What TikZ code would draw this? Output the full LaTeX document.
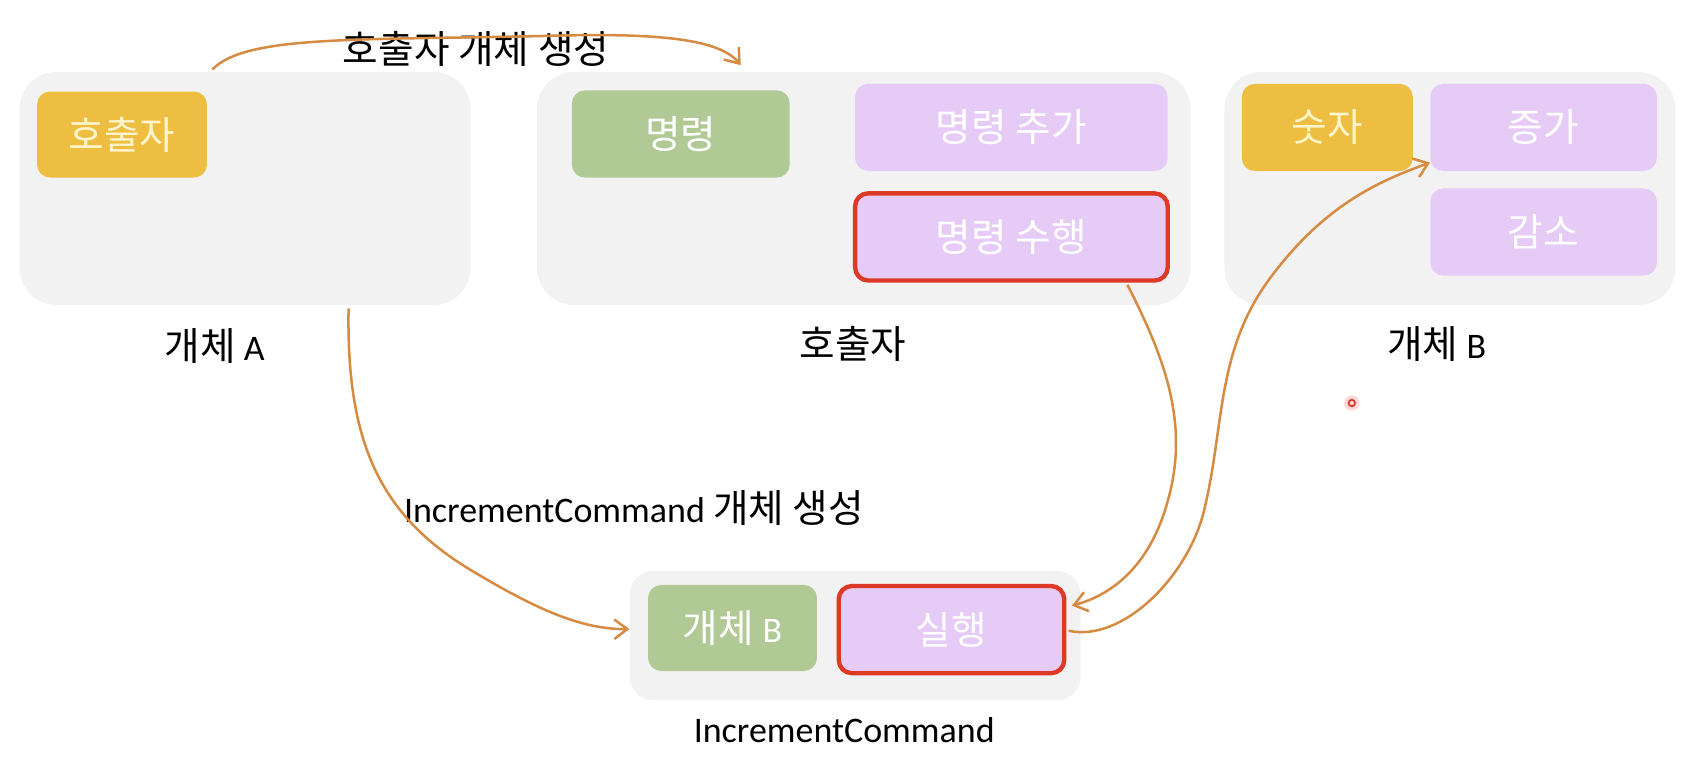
\documentclass[tikz,border=0pt]{standalone}
\usepackage{fontspec}
\setmainfont{Carlito}
\newfontfamily\kr[Scale=1.075]{Noto Sans CJK KR}
\usetikzlibrary{arrows.meta}
\definecolor{boxgray}{HTML}{F2F2F2}
\definecolor{ylw}{HTML}{EDBE42}
\definecolor{grn}{HTML}{B0C995}
\definecolor{lav}{HTML}{E6CBF6}
\definecolor{redb}{HTML}{DC3A26}
\definecolor{arr}{HTML}{D68B42}
\definecolor{ytext}{HTML}{FFF5CC}
\begin{document}
\begin{tikzpicture}[x=1pt,y=-1pt,
  panel/.style={fill=boxgray, rounded corners=34pt, inner sep=0pt},
  item/.style={rounded corners=12pt, inner sep=0pt, text=white,
    font=\kr\fontsize{33}{40}\selectfont},
  yitem/.style={item, fill=ylw, text=ytext},
  gitem/.style={item, fill=grn},
  litem/.style={item, fill=lav},
  ritem/.style={item, fill=lav, draw=redb, line width=4pt},
  lbl/.style={inner sep=0pt, text=black, font=\fontsize{33}{40}\selectfont},
  conn/.style={draw=arr, line width=2.3pt, -{Straight Barb[length=12pt,width=18pt]}}
]
\useasboundingbox (0,0) rectangle (1568,710.5);

% panels
\node[panel, minimum width=414pt, minimum height=214pt] (objA) at (225,173) {};
\node[panel, minimum width=600pt, minimum height=214pt] (caller) at (793,173) {};
\node[panel, minimum width=414pt, minimum height=214pt] (objB) at (1331,173) {};
\node[panel, rounded corners=22pt, minimum width=414pt, minimum height=119pt] (incr) at (785,583.5) {};

% items
\node[yitem, minimum width=156pt, minimum height=79pt] (callerA) at (112,123.5) {호출자};
\node[gitem, minimum width=200pt, minimum height=80pt] (cmd) at (625,123) {명령};
\node[litem, minimum width=287pt, minimum height=80pt] (add) at (928.5,117) {명령 추가};
\node[ritem, minimum width=287pt, minimum height=80pt] (exec) at (928.5,217.5) {명령 수행};
\node[yitem, minimum width=157pt, minimum height=80pt] (num) at (1218.5,117) {숫자};
\node[litem, minimum width=208pt, minimum height=80pt] (inc) at (1417,117) {증가};
\node[litem, minimum width=208pt, minimum height=80pt] (dec) at (1417,213) {감소};
\node[gitem, minimum width=155pt, minimum height=79pt] (objBref) at (672.5,576.5) {개체 {\rmfamily B}};
\node[ritem, minimum width=207pt, minimum height=80pt] (run) at (873.5,578) {실행};

% labels
\node[lbl] (lA) at (197,318) {{\kr 개체} A};
\node[lbl] (lC) at (783,316) {\kr 호출자};
\node[lbl] (lB) at (1319,316) {{\kr 개체} B};
\node[lbl] (lI) at (775,670) {IncrementCommand};
\node[lbl] (t1) at (437,45) {\kr 호출자 개체 생성};
\node[lbl] (t2) at (582,466) {IncrementCommand {\kr 개체 생성}};

% connectors
\draw[conn] ([xshift=-30pt,yshift=2pt]objA.north)
  .. controls (225,32) and (330,37) .. (500,33)
  .. controls (600,30) and (660,35) .. ([xshift=-113pt,yshift=6pt]caller.north);
\draw[conn] ([xshift=95pt,yshift=-3pt]objA.south)
  .. controls (318,400) and (345,470) .. (430,522)
  .. controls (485,555) and (530,578) .. ([yshift=6pt]incr.west);
\draw[conn] ([xshift=-39pt,yshift=-2pt]exec.south east)
  .. controls (1070,330) and (1092,390) .. (1072,460)
  .. controls (1057,515) and (1025,545) .. ([xshift=5pt,yshift=22pt]run.east);
\draw[conn] ([xshift=2pt,yshift=-1pt]run.east)
  .. controls (1030,590) and (1090,530) .. (1105,470)
  .. controls (1125,390) and (1115,320) .. (1170,250)
  .. controls (1220,185) and (1270,165) .. ([yshift=8pt]inc.south west);

% pointer dot
\fill[red!25, opacity=0.6] (1241,370) circle (7pt);
\draw[redb, line width=1.6pt] (1241,370) circle (3pt);
\end{tikzpicture}
\end{document}
